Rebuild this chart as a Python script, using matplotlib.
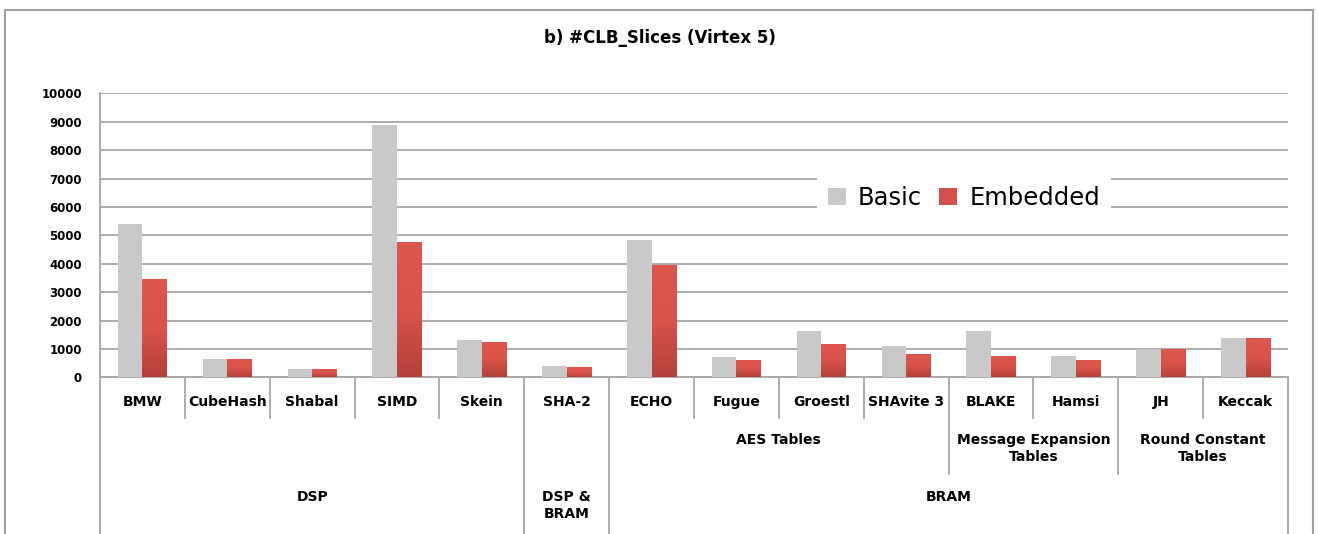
import matplotlib
matplotlib.use("Agg")
import matplotlib.pyplot as plt
import matplotlib.transforms as mtransforms
from matplotlib.colors import LinearSegmentedColormap
from matplotlib.patches import Patch
from matplotlib.lines import Line2D
import numpy as np

# --- data ---
categories = ["BMW", "CubeHash", "Shabal", "SIMD", "Skein", "SHA-2",
              "ECHO", "Fugue", "Groestl", "SHAvite 3", "BLAKE", "Hamsi", "JH", "Keccak"]
basic = [5400, 630, 280, 8900, 1310, 400, 4830, 700, 1630, 1100, 1620, 750, 1000, 1370]
embedded = [3420, 610, 260, 4750, 1230, 330, 3920, 575, 1140, 785, 715, 575, 960, 1360]

# (label, first category index, last category index)
subgroups = [("AES Tables", 6, 9),
             ("Message Expansion\nTables", 10, 11),
             ("Round Constant\nTables", 12, 13)]
groups = [("DSP", 0, 4), ("DSP &\nBRAM", 5, 5), ("BRAM", 6, 13)]
yticks = list(range(0, 10001, 1000))

W, H = 1319, 534
GRID = "#A6A6A6"
GREY = "#C9C9C9"
RED = "#D4514A"


def fy(px):
    """pixel row -> figure fraction"""
    return 1 - px / H


fig = plt.figure(figsize=(W / 100, H / 100), dpi=100)
ax = fig.add_axes([100 / W, fy(377.3), 1188 / W, 284 / H])

x = np.arange(len(categories))
w = 0.29
ax.bar(x - w / 2, basic, w, color=GREY, zorder=3)
reds = ax.bar(x + w / 2, embedded, w, color=RED, zorder=3)

# vertical gradient on the red bars
red_cmap = LinearSegmentedColormap.from_list("redgrad", ["#B3413A", "#D9534A", "#DC564D"])
grad = np.linspace(0, 1, 100).reshape(-1, 1)
for r in reds:
    x0 = r.get_x()
    ax.imshow(grad, cmap=red_cmap, origin="lower", aspect="auto",
              extent=[x0, x0 + r.get_width(), 0, r.get_height()], zorder=4)

ax.set_xlim(-0.5, len(categories) - 0.5)
ax.set_ylim(0, 10000)
ax.set_yticks(yticks)
ax.set_xticks([])
ax.yaxis.grid(True, color=GRID, lw=1.3)
ax.set_axisbelow(True)
for s in ["top", "right"]:
    ax.spines[s].set_visible(False)
for s in ["left", "bottom"]:
    ax.spines[s].set_color(GRID)
    ax.spines[s].set_linewidth(1.3)
ax.tick_params(axis="y", length=0, pad=13, labelsize=8.5)
for lab in ax.get_yticklabels():
    lab.set_fontweight("bold")

# --- hierarchical category axis below the plot ---
trans = mtransforms.blended_transform_factory(ax.transData, fig.transFigure)
group_edges = {g[1] for g in groups} | {g[2] + 1 for g in groups}
sub_edges = {g[1] for g in subgroups} | {g[2] + 1 for g in subgroups}
y_axis = fy(377.3)
for b in range(len(categories) + 1):
    if b in group_edges:
        y_end = 0
    elif b in sub_edges:
        y_end = fy(474)
    else:
        y_end = fy(418)
    ax.plot([b - 0.5, b - 0.5], [y_axis, y_end], color=GRID, lw=1.3,
            transform=trans, clip_on=False)

for i, c in enumerate(categories):
    ax.text(i, fy(402), c, transform=trans, ha="center", va="center",
            fontsize=10, fontweight="bold")
for lab, a, b in subgroups:
    ax.text((a + b) / 2, fy(433), lab, transform=trans, ha="center", va="top",
            fontsize=10, fontweight="bold", linespacing=1.3)
for lab, a, b in groups:
    ax.text((a + b) / 2, fy(490), lab, transform=trans, ha="center", va="top",
            fontsize=10, fontweight="bold", linespacing=1.3)

# title
fig.text(0.5, fy(38), "b) #CLB_Slices (Virtex 5)", ha="center", va="center",
         fontsize=12, fontweight="bold")

# legend
handles = [Patch(facecolor=GREY), Patch(facecolor=RED)]
fig.legend(handles, ["Basic", "Embedded"], loc="center",
           bbox_to_anchor=(964 / W, fy(198)), ncol=2, fontsize=17.5,
           frameon=True, facecolor="white", edgecolor="none", framealpha=1,
           handlelength=0.75, handleheight=0.75, handletextpad=0.5,
           columnspacing=0.7, borderpad=0.45)

# outer chart frame
frame = dict(color="#A0A0A0", lw=1.5)
fig.add_artist(Line2D([5 / W, 1313 / W], [fy(10), fy(10)], **frame))
fig.add_artist(Line2D([5 / W, 5 / W], [fy(10), 0], **frame))
fig.add_artist(Line2D([1313 / W, 1313 / W], [fy(10), 0], **frame))

fig.savefig("out.png", dpi=100)
